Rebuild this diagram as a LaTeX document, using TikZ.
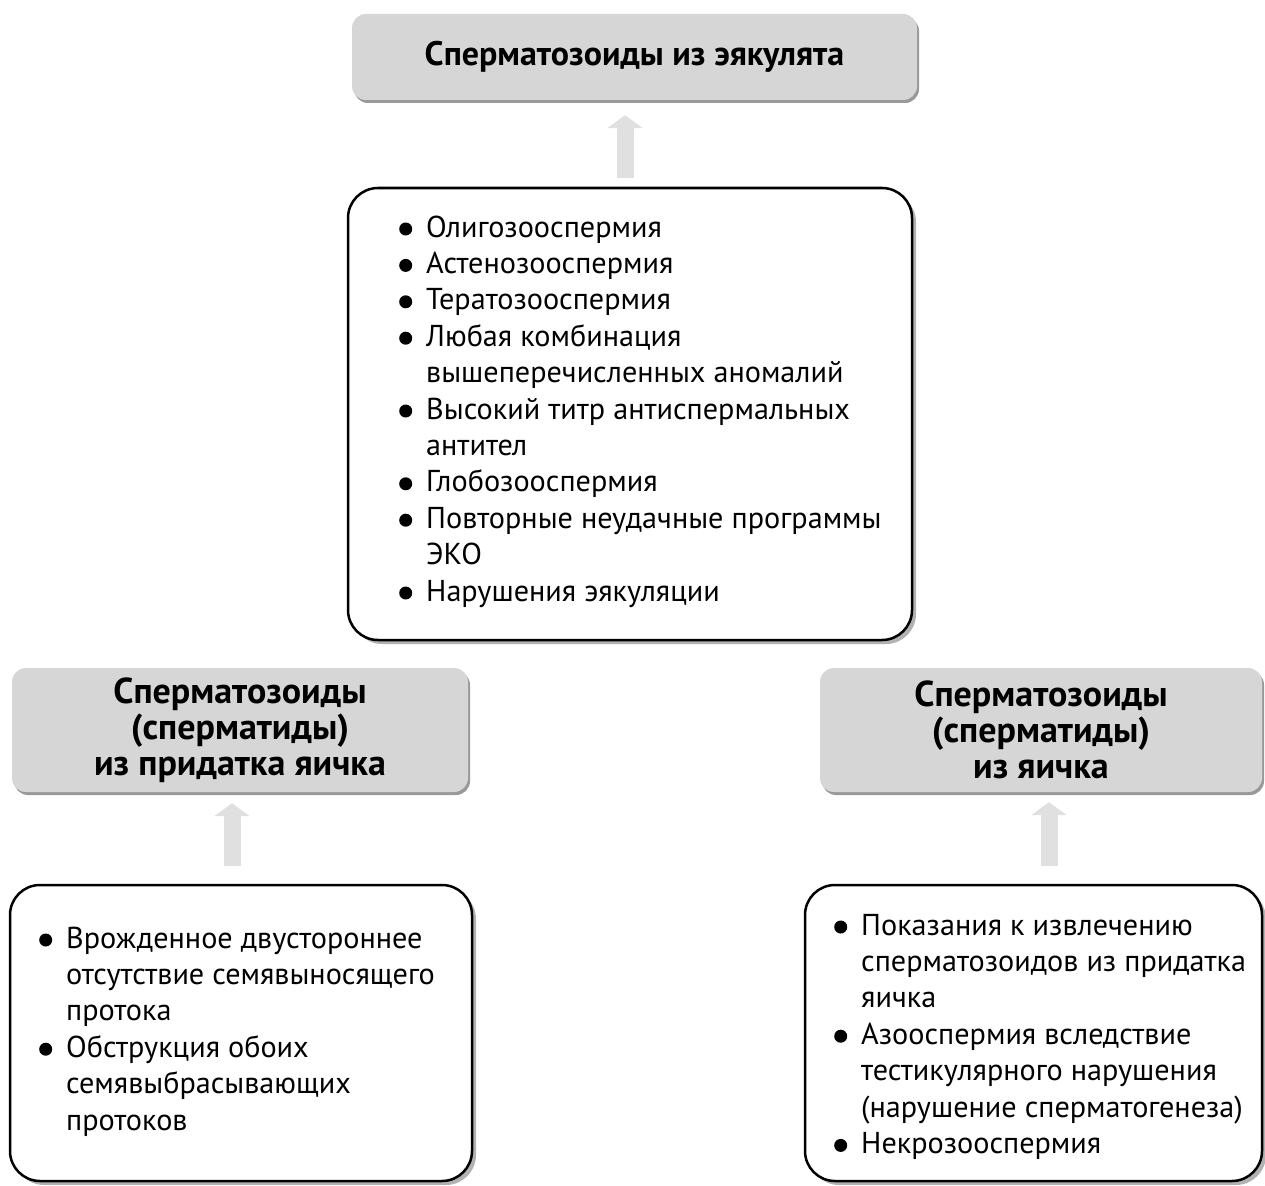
\documentclass[tikz,border=0pt]{standalone}
\usepackage{fontspec}
\setmainfont{PT Sans}
\usetikzlibrary{arrows.meta,shadows}
% bullet and continuation indent for the lists
\newcommand\bul{\makebox[27pt][l]{\raisebox{1.5pt}{\tikz\fill (0,0) circle (6.5pt);}}}
\newcommand\ind{\hspace*{27pt}}
\begin{document}
\begin{tikzpicture}[x=1pt,y=1pt,
  title/.style={fill=black!16, rounded corners=14pt, align=center,
    font=\bfseries\fontsize{36}{36}\selectfont, inner sep=0pt,
    drop shadow={shadow xshift=2pt, shadow yshift=-3pt, fill=black!40, opacity=1}},
  listbox/.style={draw=black, line width=2.5pt, fill=white, rounded corners=30pt,
    drop shadow={shadow xshift=4pt, shadow yshift=-4pt, fill=black!30, opacity=1}},
  listtext/.style={anchor=base west, inner sep=0pt, font=\fontsize{30.2}{36.4}\selectfont},
  blockarrow/.style={line width=17pt, draw=black!12, -{Triangle[width=35pt,length=13pt]}}]
\useasboundingbox (0,0) rectangle (1265,-1185);

% source boxes
\node[title, minimum width=565, minimum height=86, font=\bfseries\fontsize{34}{36}\selectfont]
  (top) at (634.5,-57) {Сперматозоиды из эякулята};
\node[title, minimum width=456, minimum height=124] (gl) at (240,-730)
  {Сперматозоиды\\(сперматиды)\\из придатка яичка};
\node[title, minimum width=442, minimum height=124] (gr) at (1041,-730)
  {Сперматозоиды\\(сперматиды)\\из яичка};

% indication boxes
\node[listbox, minimum width=564, minimum height=452] (mid) at (630,-414) {};
\node[listbox, minimum width=462, minimum height=296] (bl) at (241,-1033) {};
\node[listbox, minimum width=457, minimum height=296] (br) at (1033.5,-1033) {};

\node[listtext] (midtext) at (399,-237) {\begin{tabular}[t]{@{}l@{}}
\bul Олигозооспермия\\
\bul Астенозооспермия\\
\bul Тератозооспермия\\
\bul Любая комбинация\\
\ind вышеперечисленных аномалий\\
\bul Высокий титр антиспермальных\\
\ind антител\\
\bul Глобозооспермия\\
\bul Повторные неудачные программы\\
\ind ЭКО\\
\bul Нарушения эякуляции
\end{tabular}};

\node[listtext] (bltext) at (39,-948) {\begin{tabular}[t]{@{}l@{}}
\bul Врожденное двустороннее\\
\ind отсутствие семявыносящего\\
\ind протока\\
\bul Обструкция обоих\\
\ind семявыбрасывающих\\
\ind протоков
\end{tabular}};

\node[listtext] (brtext) at (834,-935) {\begin{tabular}[t]{@{}l@{}}
\bul Показания к извлечению\\
\ind сперматозоидов из придатка\\
\ind яичка\\
\bul Азооспермия вследствие\\
\ind тестикулярного нарушения\\
\ind (нарушение сперматогенеза)\\
\bul Некрозооспермия
\end{tabular}};

% arrows
\draw[blockarrow, shorten <=9pt, shorten >=15pt]
  ([xshift=-5pt]mid.north) -- ([xshift=-5pt]mid.north |- top.south);
\draw[blockarrow, shorten <=18pt, shorten >=11pt]
  ([xshift=-9pt]bl.north) -- ([xshift=-9pt]bl.north |- gl.south);
\draw[blockarrow, shorten <=18pt, shorten >=10pt]
  ([xshift=15.5pt]br.north) -- ([xshift=15.5pt]br.north |- gr.south);
\end{tikzpicture}
\end{document}
